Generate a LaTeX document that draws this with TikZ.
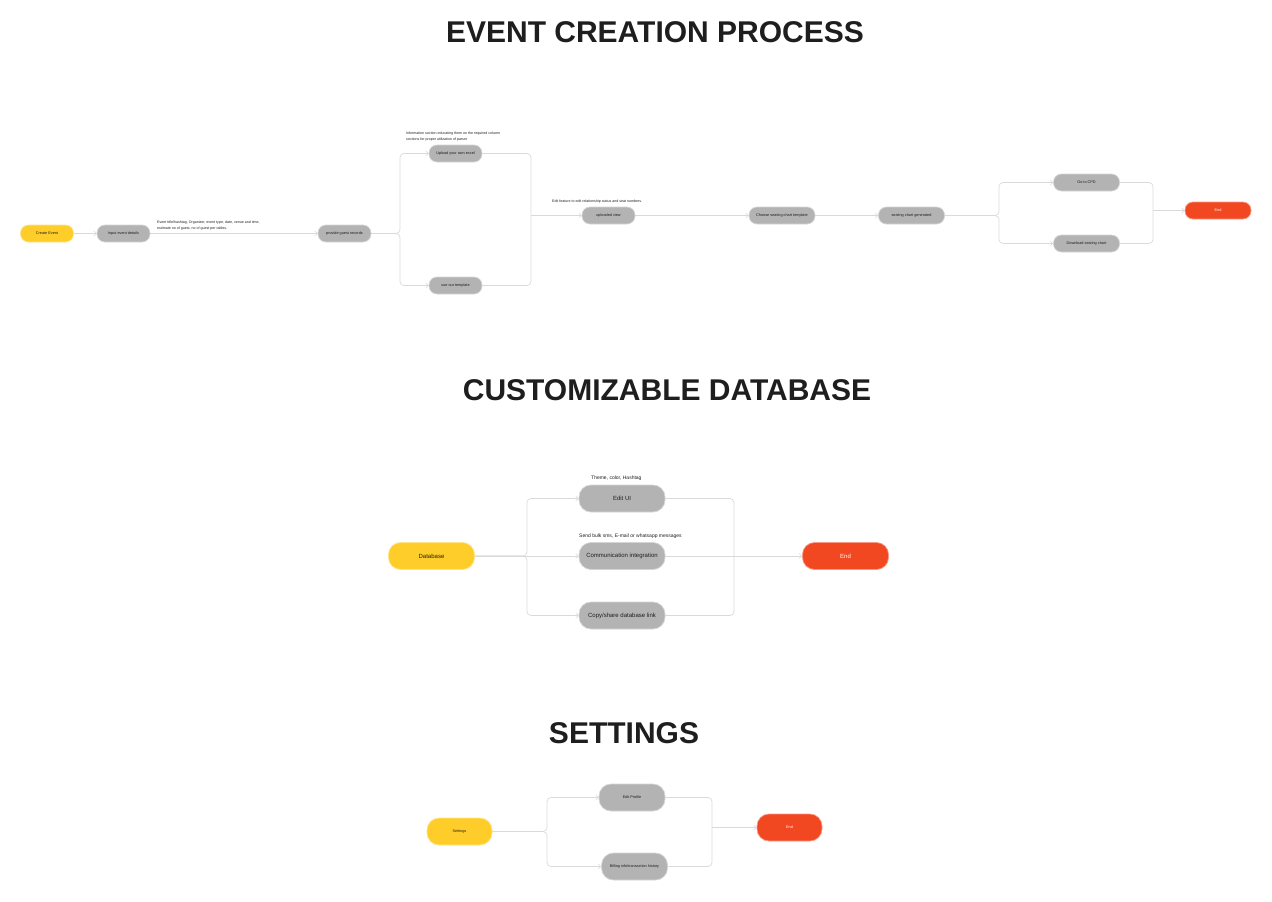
\documentclass[tikz,border=0pt]{standalone}
\usepackage{fontspec}
\setmainfont{Liberation Sans}
\usetikzlibrary{arrows.meta}
\definecolor{ylw}{HTML}{FFCD29}
\definecolor{rd}{HTML}{F24822}
\definecolor{gry}{HTML}{B3B3B3}
\definecolor{ln}{HTML}{D9D9D9}
\definecolor{txt}{HTML}{1E1E1E}
\begin{document}
\begin{tikzpicture}[x=1pt,y=-1pt,
  box/.style={rectangle,rounded corners=8pt,inner sep=0pt,text=txt,line width=0.7pt},
  gbox/.style={box,fill=gry,draw=gry!55!white},
  ybox/.style={box,fill=ylw,draw=ylw!55!white},
  rbox/.style={box,fill=rd,draw=rd!55!white,text=white},
  sA/.style={minimum width=53pt,minimum height=17pt,font=\fontsize{3.8}{4.5}\selectfont},
  sB/.style={minimum width=86pt,minimum height=27pt,rounded corners=12pt,font=\fontsize{6}{7}\selectfont},
  sC/.style={minimum width=65pt,minimum height=27pt,rounded corners=12pt,font=\fontsize{3.8}{4.5}\selectfont},
  conn/.style={draw=ln,line width=0.7pt,rounded corners=4pt},
  arr/.style={-{Straight Barb[length=2.5pt,width=5pt,line width=0.6pt]}},
  note/.style={anchor=south west,inner sep=0pt,align=left,text=txt},
  ttl/.style={font=\fontsize{30}{34}\selectfont\bfseries,text=txt,inner sep=0pt}
]
\useasboundingbox (0,0) rectangle (1272,902);

% ---------- Section 1 ----------
\node[ttl] (t1) at (655,32) {EVENT CREATION PROCESS};

\node[ybox,sA] (create) at (47,233.5) {Create Event};
\node[gbox,sA] (input) at (123.5,233.5) {Input event details};
\node[gbox,sA] (provide) at (344.5,233.5) {provide guest records};
\node[gbox,sA] (upload) at (455.5,153.5) {Upload your own excel};
\node[gbox,sA] (tmpl) at (455.5,285.5) {use our template};
\node[gbox,sA] (uview) at (608.5,215.5) {uploaded view};
\node[gbox,sA,minimum width=66pt] (choose) at (782,215.5) {Choose seating chart template};
\node[gbox,sA,minimum width=66pt] (gen) at (911.5,215.5) {seating chart generated};
\node[gbox,sA,minimum width=66pt] (cpd) at (1086.5,182.5) {Go to CPD};
\node[gbox,sA,minimum width=66pt] (dl) at (1086.5,243.5) {Download seating chart};
\node[rbox,sA,minimum width=66pt] (end1) at (1218,210.5) {End};

\node[note,font=\fontsize{3.6}{5.6}\selectfont] (n1) at (157,230) {Event title/hashtag, Organizer, event type, date, venue and time,\\estimate no of guest, no of guest per tables.};
\node[note,font=\fontsize{3.6}{5.6}\selectfont] (n2) at (406,141) {Information section educating them on the required column\\sections for proper utilization of parser};
\node[note,font=\fontsize{3.6}{5.6}\selectfont] (n3) at (552,203) {Edit feature to edit relationship status and seat numbers.};

\coordinate (j1) at (400,233.5);
\coordinate (m1) at (531,215.5);
\coordinate (j2) at (999,215.5);
\coordinate (m2) at (1153,210.5);

\draw[conn,arr] (create) -- (input);
\draw[conn,arr] (input) -- (provide);
\draw[conn,arr] (provide.east) -- (j1) |- (upload.west);
\draw[conn,arr] (provide.east) -- (j1) |- (tmpl.west);
\draw[conn] (upload.east) -| (m1);
\draw[conn] (tmpl.east) -| (m1);
\draw[conn,arr] (m1) -- (uview.west);
\draw[conn,arr] (uview) -- (choose);
\draw[conn,arr] (choose) -- (gen);
\draw[conn,arr] (gen.east) -- (j2) |- (cpd.west);
\draw[conn,arr] (gen.east) -- (j2) |- (dl.west);
\draw[conn] (cpd.east) -| (m2);
\draw[conn] (dl.east) -| (m2);
\draw[conn,arr] (m2) -- (end1.west);

% ---------- Section 2 ----------
\node[ttl] (t2) at (667,390) {CUSTOMIZABLE DATABASE};

\node[ybox,sB] (db) at (431.5,556) {Database};
\node[gbox,sB] (eui) at (622,498.5) {Edit UI};
\node[gbox,sB] (comm) at (622,556) {Communication integration};
\node[gbox,sB] (copy) at (622,615.5) {Copy/share database link};
\node[rbox,sB] (end2) at (845.5,556) {End};

\node[note,font=\fontsize{5}{6}\selectfont] (n4) at (591,481) {Theme, color, Hashtag};
\node[note,font=\fontsize{5}{6}\selectfont] (n5) at (579,539) {Send bulk sms, E-mail or whatsapp messages};

\coordinate (j3) at (527,556);
\coordinate (m3) at (734,556);
\draw[conn,arr] (db.east) -- (j3) |- (eui.west);
\draw[conn,arr] (db.east) -- (comm.west);
\draw[conn,arr] (db.east) -- (j3) |- (copy.west);
\draw[conn] (eui.east) -| (m3);
\draw[conn] (copy.east) -| (m3);
\draw[conn,arr] (comm.east) -- (end2.west);

% ---------- Section 3 ----------
\node[ttl] (t3) at (624,733) {SETTINGS};

\node[ybox,sC] (set) at (459.5,831.5) {Settings};
\node[gbox,sC,minimum width=66pt] (prof) at (632,797.5) {Edit Profile};
\node[gbox,sC,minimum width=66pt] (bill) at (634.5,866.5) {Billing info/transaction history};
\node[rbox,sC] (end3) at (789.5,827.5) {End};

\coordinate (j4) at (547,831.5);
\coordinate (m4) at (712,827.5);
\draw[conn,arr] (set.east) -- (j4) |- (prof.west);
\draw[conn,arr] (set.east) -- (j4) |- (bill.west);
\draw[conn] (prof.east) -| (m4);
\draw[conn] (bill.east) -| (m4);
\draw[conn,arr] (m4) -- (end3.west);
\end{tikzpicture}
\end{document}
